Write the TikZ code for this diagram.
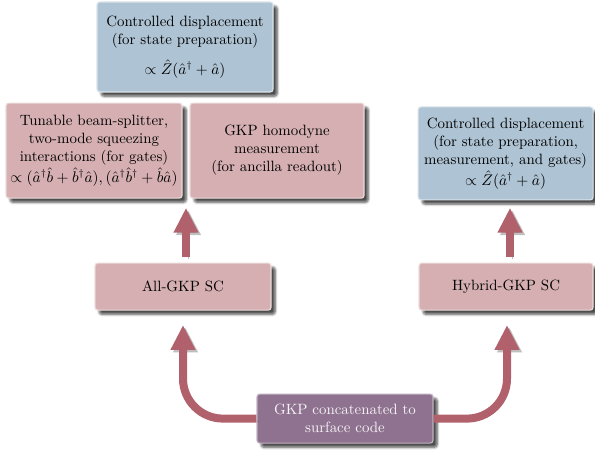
\documentclass[tikz,border=0pt]{standalone}
\usepackage{amsmath,amssymb,tikz}
\usepackage{xcolor}
\usetikzlibrary{shadows,shadows.blur,arrows.meta}

\definecolor{boxblue}{RGB}{174,195,211}
\definecolor{boxpink}{RGB}{213,175,177}
\definecolor{boxpurple}{RGB}{143,114,144}
\definecolor{arrowred}{RGB}{176,97,107}

\begin{document}
\begin{tikzpicture}[
		box/.style={rounded corners=2pt, align=center, inner sep=2pt, line width=0.8pt,
			font=\fontsize{10.6pt}{12.8pt}\selectfont,
			blur shadow={shadow xshift=3pt, shadow yshift=-3pt, shadow blur steps=6, shadow opacity=70}},
		bluebox/.style={box, fill=boxblue, draw=white!55!boxblue},
		pinkbox/.style={box, fill=boxpink, draw=white!55!boxpink},
		purplebox/.style={box, fill=boxpurple, draw=white!45!boxpurple, text=white!92!boxpurple},
		bigarrow/.style={line width=0.2cm, arrowred, -{Triangle[width=0.58cm,length=0.62cm]},
			preaction={draw=black, draw opacity=0.25, transform canvas={shift={(1.8pt,-1.8pt)}}}}
	]
		\useasboundingbox (0,0) rectangle (14.875,11.275);

		% Top row
		\node[bluebox, minimum width=4.4cm, minimum height=2.25cm] (ctrltop) at (4.625,10.1)
			{Controlled displacement\\(for state preparation)\\[7pt]$\propto \hat{Z}(\hat{a}^\dagger+\hat{a})$};

		% Gate boxes of the all-GKP code
		\node[pinkbox, minimum width=4.4cm, minimum height=2.375cm] (tunable) at (2.35,7.51)
			{Tunable beam-splitter,\\two-mode squeezing\\interactions (for gates)\\[1pt]$\propto(\hat{a}^\dagger\hat{b}+\hat{b}^\dagger\hat{a}),(\hat{a}^\dagger\hat{b}^\dagger+\hat{b}\hat{a})$};
		\node[pinkbox, minimum width=4.35cm, minimum height=2.375cm] (homodyne) at (6.925,7.51)
			{GKP homodyne\\measurement\\(for ancilla readout)};

		% Hybrid code box
		\node[bluebox, minimum width=4.375cm, minimum height=2.325cm] (ctrlright) at (12.64,7.44)
			{Controlled displacement\\(for state preparation,\\measurement, and gates)\\[1pt]$\propto \hat{Z}(\hat{a}^\dagger+\hat{a})$};

		% The two surface codes
		\node[pinkbox, minimum width=4.4cm, minimum height=1.175cm] (allgkp) at (4.575,4.11) {All-GKP SC};
		\node[pinkbox, minimum width=4.35cm, minimum height=1.175cm] (hybrid) at (12.65,4.11) {Hybrid-GKP SC};

		% Root
		\node[purplebox, minimum width=4.4cm, minimum height=1.225cm] (concat) at (8.625,0.81)
			{GKP concatenated to\\surface code};

		% Arrow tips
		\coordinate (tipleft) at (4.575,3.15);
		\coordinate (tipright) at (12.675,3.15);
		\coordinate (upleft) at (4.65,6.08);
		\coordinate (upright) at (12.75,6.08);

		% Arrows
		\draw[bigarrow, rounded corners=1cm] (concat.west) -| (tipleft);
		\draw[bigarrow, rounded corners=1cm] (concat.east) -| (tipright);
		\draw[bigarrow] (allgkp.north -| upleft) ++(0,0.15) -- (upleft);
		\draw[bigarrow] (hybrid.north -| upright) ++(0,0.15) -- (upright);

	\end{tikzpicture}
\end{document}
